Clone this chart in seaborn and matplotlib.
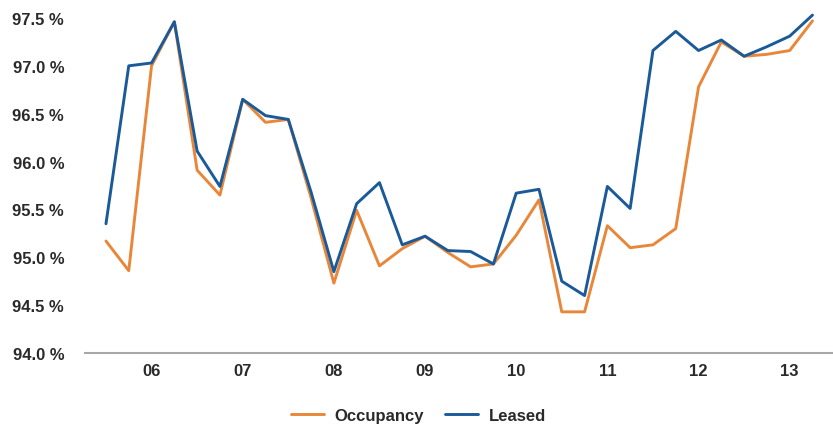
import matplotlib
matplotlib.use("Agg")
import matplotlib.pyplot as plt
import seaborn as sns
import pandas as pd
import numpy as np

# Quarterly occupancy / leased rates, Q3 2005 through Q2 2013
quarters = [f"{y} Q{q}" for y in range(2005, 2014) for q in range(1, 5)][2:34]

leased = [95.35, 97.00, 97.03, 97.46, 96.11, 95.74, 96.65, 96.48,
          96.44, 95.68, 94.85, 95.56, 95.78, 95.13, 95.22, 95.07,
          95.06, 94.93, 95.67, 95.71, 94.75, 94.60, 95.74, 95.51,
          97.16, 97.36, 97.16, 97.27, 97.10, 97.20, 97.31, 97.53]

occupancy = [95.17, 94.86, 97.00, 97.46, 95.91, 95.65, 96.65, 96.41,
             96.44, 95.62, 94.73, 95.49, 94.91, 95.09, 95.22, 95.05,
             94.90, 94.93, 95.23, 95.60, 94.43, 94.43, 95.33, 95.10,
             95.13, 95.30, 96.78, 97.25, 97.10, 97.12, 97.16, 97.47]

year_labels = ["06", "07", "08", "09", "10", "11", "12", "13"]

series_names = ["Occupancy", "Leased"]
colors = {"Occupancy": "#E8873A", "Leased": "#1B5A99"}

df = pd.DataFrame({
    "quarter": quarters * 2,
    "pos": list(range(len(quarters))) * 2,
    "value": occupancy + leased,
    "series": ["Occupancy"] * len(occupancy) + ["Leased"] * len(leased),
})

sns.set_theme(style="white")
plt.rcParams["font.family"] = ["Liberation Sans", "DejaVu Sans"]
plt.rcParams["font.weight"] = "bold"

fig = plt.figure(figsize=(8.33, 4.27), dpi=100)
ax = fig.add_axes([85 / 833, 1 - 354 / 427, 1 - 85 / 833, (354 - 9.4) / 427])

sns.lineplot(data=df, x="pos", y="value", hue="series", hue_order=series_names,
             palette=colors, linewidth=2.1, ax=ax, legend=False)

ax.set_xlim(-0.92, 31.9)
ax.set_ylim(94.0, 97.6)

# Year ticks sit on the first quarter of each year
tick_pos = [quarters.index(f"20{y} Q1") for y in year_labels]
ax.set_xticks(tick_pos)
ax.set_xticklabels(year_labels, fontweight="bold")
yticks = np.arange(94.0, 97.51, 0.5)
ax.set_yticks(yticks)
ax.set_yticklabels([f"{v:.1f} %" for v in yticks], fontweight="bold")

ax.tick_params(axis="both", length=0, labelsize=12, labelcolor="#2A2A2A")
ax.tick_params(axis="y", pad=15)
ax.tick_params(axis="x", pad=7)
ax.set_xlabel("")
ax.set_ylabel("")

for side in ["top", "right", "left"]:
    ax.spines[side].set_visible(False)
ax.spines["bottom"].set_color("#A8A8A8")
ax.spines["bottom"].set_linewidth(1.5)
ax.grid(False)

handles = [plt.Line2D([], [], color=colors[n], linewidth=2.1) for n in series_names]
fig.legend(handles, series_names, loc="center", bbox_to_anchor=(0.502, 0.025),
           ncol=2, frameon=False, prop={"size": 12, "weight": "bold"},
           handlelength=2.0, handletextpad=0.6, columnspacing=1.3,
           labelcolor="#2A2A2A")

fig.savefig("out.png", dpi=100)
